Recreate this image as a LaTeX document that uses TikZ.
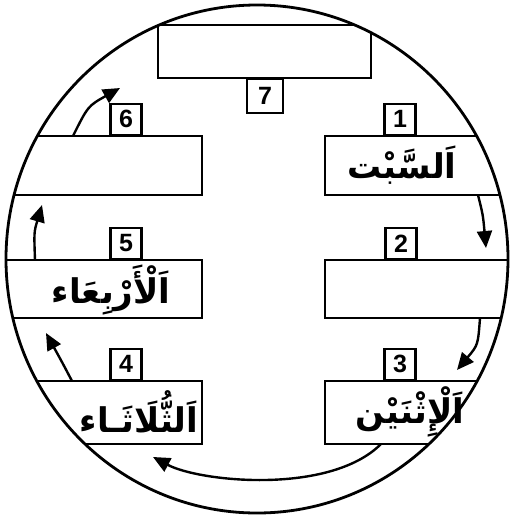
\documentclass[tikz,border=0pt]{standalone}
\usepackage{fontspec}
\setmainfont{Liberation Sans}
\newfontfamily\arabicfont[Script=Arabic]{DejaVu Sans}
\TeXXeTstate=1
\usetikzlibrary{arrows.meta}
\begin{document}
\begin{tikzpicture}[x=1pt,y=-1pt,
  dayrect/.style={draw, rectangle, inner sep=0pt, line width=2.6pt},
  numbox/.style={draw, fill=white, rectangle, minimum width=31pt, minimum height=31pt, inner sep=0pt, font=\bfseries\fontsize{25}{25}\selectfont, line width=2.4pt},
  dayname/.style={font=\arabicfont\bfseries\fontsize{34}{36}\selectfont, inner sep=0pt},
  arr/.style={line width=2.4pt, -{Triangle[length=17pt,width=15pt]}}]
\useasboundingbox (0,0) rectangle (510,515);
\begin{scope}
  \clip (257,259) ellipse [x radius=251, y radius=254];
  \node[dayrect, minimum width=213pt, minimum height=53pt] (b7) at (264.5,51.5) {};
  \node[dayrect, minimum width=222pt, minimum height=59pt] (b6) at (91,165.5) {};
  \node[dayrect, minimum width=205pt, minimum height=59pt] (b1) at (427.5,165.5) {};
  \node[dayrect, minimum width=222pt, minimum height=58pt] (b5) at (91,289) {};
  \node[dayrect, minimum width=205pt, minimum height=58pt] (b2) at (427.5,289) {};
  \node[dayrect, minimum width=222pt, minimum height=63pt] (b4) at (91,412.5) {};
  \node[dayrect, minimum width=205pt, minimum height=63pt] (b3) at (427.5,412.5) {};
\end{scope}
\draw[line width=2.8pt] (257,259) ellipse [x radius=251, y radius=254];
% number labels
\node[numbox, minimum width=36pt, minimum height=34pt, anchor=north] (n7) at (265,78) {7};
\node[numbox, anchor=south] (n6) at (126,136) {6};
\node[numbox, anchor=south] (n1) at (400,136) {1};
\node[numbox, anchor=south] (n5) at (126,260) {5};
\node[numbox, anchor=south] (n2) at (401,260) {2};
\node[numbox, anchor=south] (n4) at (126,381) {4};
\node[numbox, anchor=south] (n3) at (400,381) {3};
% day names
\node[dayname] (t1) at (402,165) {\beginR اَلسَّبْت\endR};
\node[dayname] (t5) at (111,290) {\beginR اَلْأَرْبِعَاء\endR};
\node[dayname] (t4) at (139,412) {\beginR اَلثُّلَاثَـاء\endR};
\node[dayname] (t3) at (410,412) {\beginR اَلْإِثْنَيْن\endR};
% arrows
\coordinate (a1s) at (478,195);
\coordinate (a1e) at (486,248);
\coordinate (a2s) at (480,318);
\coordinate (a2e) at (457,370);
\coordinate (a3s) at (381,444);
\coordinate (a3e) at (153,457);
\coordinate (a4s) at (72,381);
\coordinate (a4e) at (46,333);
\coordinate (a5s) at (35,260);
\coordinate (a5e) at (42,205);
\coordinate (a6s) at (73,136);
\coordinate (a6e) at (120,88);
\draw[arr] (a1s) .. controls (483,215) .. (a1e);
\draw[arr] (a2s) .. controls (478,345) .. (a2e);
\draw[arr] (a3s) .. controls (330,495) and (200,482) .. (a3e);
\draw[arr] (a4s) .. controls (62,362) .. (a4e);
\draw[arr] (a5s) .. controls (34,232) .. (a5e);
\draw[arr] (a6s) .. controls (88,106) .. (a6e);
\end{tikzpicture}
\end{document}
